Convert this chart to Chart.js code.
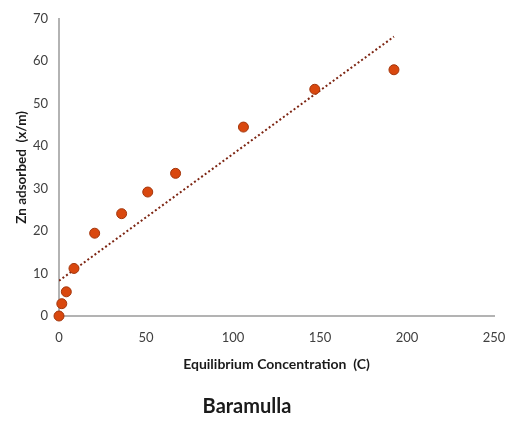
<!DOCTYPE html>
<html>
<head>
<meta charset="utf-8">
<script src="https://cdn.jsdelivr.net/npm/chart.js@4"></script>
<style>
  html, body { margin: 0; padding: 0; background: #fff; }
  #wrap { width: 510px; height: 421px; position: relative; }
</style>
</head>
<body>
<div id="wrap"><canvas id="isotherm"></canvas></div>
<script>
// data
const concentration = [0, 1.6, 4.2, 8.6, 20.5, 36, 51, 67, 106, 147, 192.5];
const adsorbed = [0, 2.9, 5.7, 11.2, 19.5, 24.1, 29.2, 33.6, 44.5, 53.4, 58.0];
const trendX = [0, 192.5];
const trendY = [8.3, 65.8];
const xTicks = [0, 50, 100, 150, 200, 250];
const yTicks = [0, 10, 20, 30, 40, 50, 60, 70];

const font = 'Lato, "Open Sans", sans-serif';

document.addEventListener('DOMContentLoaded', function () {
    const ctx = document.getElementById('isotherm').getContext('2d');
    new Chart(ctx, {
        type: 'scatter',
        data: {
            datasets: [{
                label: 'Trend',
                type: 'line',
                data: trendX.map((x, i) => ({ x: x, y: trendY[i] })),
                borderColor: '#7d2512',
                borderWidth: 2,
                borderDash: [2, 2.4],
                pointRadius: 0,
                fill: false,
                order: 2
            }, {
                label: 'Baramulla',
                data: concentration.map((x, i) => ({ x: x, y: adsorbed[i] })),
                backgroundColor: '#d9480f',
                borderColor: '#a3360c',
                borderWidth: 1,
                pointRadius: 5,
                clip: false,
                order: 1
            }]
        },
        options: {
            responsive: true,
            maintainAspectRatio: false,
            animation: false,
            layout: { padding: { left: 0, right: 16, top: 17, bottom: 0 } },
            scales: {
                x: {
                    type: 'linear',
                    min: 0,
                    max: 250,
                    afterBuildTicks: s => { s.ticks = xTicks.map(v => ({ value: v })); },
                    afterFit: s => { s.height = 63; s.paddingRight = 0; },
                    grid: { display: false, drawTicks: false },
                    border: { display: true, color: '#b3b3b3', width: 2 },
                    ticks: { padding: 14, color: '#404040', font: { family: font, size: 13 } },
                    title: {
                        display: true,
                        text: 'Equilibrium Concentration  (C)',
                        color: '#1a1a1a',
                        font: { family: font, size: 14, weight: 'bold' },
                        padding: { top: 0, bottom: 6 }
                    }
                },
                y: {
                    type: 'linear',
                    min: 0,
                    max: 70,
                    afterBuildTicks: s => { s.ticks = yTicks.map(v => ({ value: v })); },
                    afterFit: s => { s.width = 59; },
                    grid: { display: false, drawTicks: false },
                    border: { display: true, color: '#b3b3b3', width: 2 },
                    ticks: { padding: 11, color: '#404040', font: { family: font, size: 13 } },
                    title: {
                        display: true,
                        text: 'Zn adsorbed  (x/m)',
                        color: '#1a1a1a',
                        font: { family: font, size: 13.5, weight: 'bold' },
                        padding: { top: 14, bottom: 0 }
                    }
                }
            },
            plugins: {
                legend: { display: false },
                tooltip: { enabled: false },
                title: {
                    display: true,
                    position: 'bottom',
                    text: 'Baramulla',
                    color: '#1a1a1a',
                    font: { family: font, size: 20, weight: 'bold' },
                    padding: { top: 16, bottom: 2 }
                }
            }
        }
    });
});
</script>
</body>
</html>
